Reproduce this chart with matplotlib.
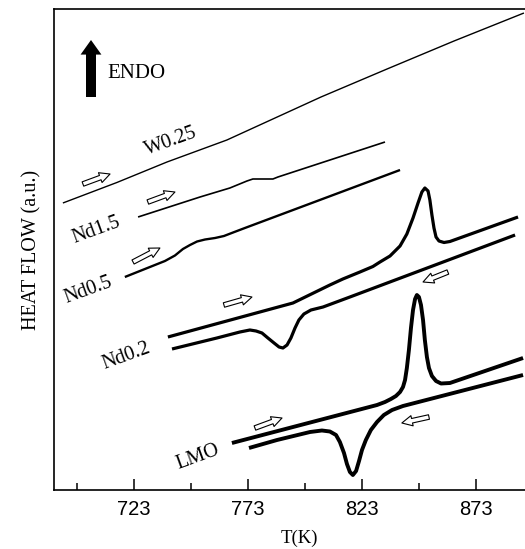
import numpy as np
import matplotlib
matplotlib.use("Agg")
from matplotlib import pyplot as plt

# DSC traces, T in K, heat flow in arbitrary units
w025_T = [691.8, 715.5, 737.5, 763.8, 805.1, 834.1, 863.5, 894.2]
w025_hf = [28.7, 30.75, 32.8, 35.0, 39.3, 42.1, 44.9, 47.7]

nd15_T = [724.8, 752.0, 765.1, 772.6, 775.2, 779.6, 784.0, 786.2, 833.2]
nd15_hf = [27.3, 29.3, 30.2, 30.9, 31.1, 31.1, 31.1, 31.3, 34.8]

nd05_T = [719.0, 730.0, 736.6, 741.0, 744.5, 747.6, 750.7, 754.2, 758.6, 762.5,
          766.5, 771.7, 839.8]
nd05_hf = [21.3, 22.3, 22.9, 23.45, 24.1, 24.5, 24.85, 25.05, 25.2, 25.4,
           25.75, 26.2, 32.0]

# Nd0.2 heating (endothermic peak) and cooling (exothermic dip)
nd02h_T = [737.9, 792.8, 809.0, 814.7, 822.2, 827.9, 831.0, 835.4, 839.8, 842.8,
           845.5, 847.7, 849.4, 850.7, 852.1, 852.9, 853.8, 854.7, 855.6, 856.9,
           859.1, 861.7, 891.6]
nd02h_hf = [15.3, 18.7, 20.5, 21.1, 21.8, 22.35, 22.8, 23.4, 24.4, 25.6,
            27.2, 28.7, 29.8, 30.2, 29.9, 29.0, 27.5, 26.2, 25.3, 24.9,
            24.75, 24.85, 27.3]
nd02c_T = [739.7, 759.4, 769.5, 773.9, 776.6, 779.2, 781.8, 784.5, 786.7, 788.4,
           790.2, 791.9, 793.7, 795.4, 797.6, 800.7, 806.0, 817.8, 890.3]
nd02c_hf = [14.1, 15.2, 15.8, 16.0, 15.9, 15.7, 15.2, 14.7, 14.3, 14.2,
            14.5, 15.2, 16.2, 17.0, 17.6, 18.0, 18.3, 19.3, 25.5]

# LMO heating and cooling
lmoh_T = [766.0, 829.7, 833.2, 835.8, 838.0, 839.8, 841.1, 842.0, 842.8, 843.7,
          844.6, 845.5, 846.4, 847.2, 848.1, 849.0, 849.9, 850.7, 851.6, 852.5,
          853.8, 855.6, 857.8, 861.7, 893.8]
lmoh_hf = [4.7, 8.5, 8.8, 9.1, 9.4, 9.8, 10.3, 11.0, 12.2, 14.0,
           16.2, 18.0, 19.1, 19.5, 19.3, 18.5, 17.0, 15.0, 13.3, 12.2,
           11.4, 10.9, 10.65, 10.7, 13.2]
lmoc_T = [773.5, 785.8, 800.3, 805.5, 809.0, 811.7, 813.4, 815.2, 816.5, 817.8,
          819.1, 820.5, 821.8, 823.1, 824.8, 827.0, 829.7, 832.7, 836.3, 841.1,
          893.8]
lmoc_hf = [4.2, 5.0, 5.8, 5.95, 5.85, 5.5, 4.8, 3.7, 2.6, 1.8,
           1.5, 1.9, 2.9, 4.0, 5.0, 6.0, 6.8, 7.5, 8.0, 8.4,
           11.5]

labels = ["W0.25", "Nd1.5", "Nd0.5", "Nd0.2", "LMO"]
label_T = [739.2, 706.3, 702.8, 719.5, 751.1]
label_hf = [34.9, 26.0, 20.0, 13.4, 3.3]

# heating / cooling direction arrows: (tail, head)
arrows = [((700.6, 30.6), (712.5, 31.6)),
          ((729.1, 28.8), (741.0, 29.8)),
          ((722.6, 22.8), (734.4, 24.2)),
          ((762.5, 18.5), (774.8, 19.3)),
          ((860.8, 21.8), (849.9, 20.8)),
          ((776.1, 6.2), (788.0, 7.2)),
          ((852.5, 7.3), (840.6, 6.7))]

major = [723, 773, 823, 873]
minor = [698, 748, 798, 848, 898]

serif = "Liberation Serif"
sans = "Liberation Sans"

fig = plt.figure(figsize=(5.25, 5.49), dpi=100)
# right spine sits just past the picture edge
ax = fig.add_axes([54/525, 1-490/549, 490/525, 481/549])

kw = dict(color="black", solid_joinstyle="round", solid_capstyle="butt")
ax.plot(w025_T, w025_hf, lw=1.0, **kw)
ax.plot(nd15_T, nd15_hf, lw=1.2, **kw)
ax.plot(nd05_T, nd05_hf, lw=1.7, **kw)
ax.plot(nd02h_T, nd02h_hf, lw=2.3, **kw)
ax.plot(nd02c_T, nd02c_hf, lw=2.3, **kw)
ax.plot(lmoh_T, lmoh_hf, lw=2.8, **kw)
ax.plot(lmoc_T, lmoc_hf, lw=2.8, **kw)

for lab, t, h in zip(labels, label_T, label_hf):
    ax.text(t, h, lab, rotation=20, ha="center", va="center",
            fontsize=14.5, family=serif)

for tail, head in arrows:
    ax.annotate("", xy=head, xytext=tail,
                arrowprops=dict(arrowstyle="simple,head_length=0.75,head_width=0.75,tail_width=0.33",
                                fc="white", ec="black", lw=0.8, shrinkA=0, shrinkB=0,
                                mutation_scale=10))

# ENDO marker
ax.annotate("", xy=(91/525, 1-40/549), xytext=(91/525, 1-97/549),
            xycoords="figure fraction", textcoords="figure fraction",
            arrowprops=dict(arrowstyle="simple,head_length=1.05,head_width=1.5,tail_width=0.72",
                            fc="black", ec="black", lw=0, shrinkA=0, shrinkB=0,
                            mutation_scale=10))
fig.text(107/525, 1-73/549, "ENDO", ha="left", va="center", fontsize=15, family=serif)

ax.set_xlim(687.9, 903.0)
ax.set_ylim(0, 48.1)
ax.set_xticks(major)
ax.set_xticks(minor, minor=True)
ax.set_yticks([])
ax.tick_params(axis="x", which="major", direction="in", length=8, width=1.1, pad=7,
               labelsize=14.5)
ax.tick_params(axis="x", which="minor", direction="in", length=5, width=1.1)
for lab in ax.get_xticklabels():
    lab.set_family(sans)
for s in ["left", "bottom", "top"]:
    ax.spines[s].set_linewidth(1.2)
ax.spines["right"].set_visible(False)

ax.set_xlabel("T(K)", fontsize=13.5, family=serif, labelpad=8)
ax.set_ylabel("HEAT FLOW (a.u.)", fontsize=14.5, family=serif, labelpad=9)

plt.savefig("out.png", dpi=100)
